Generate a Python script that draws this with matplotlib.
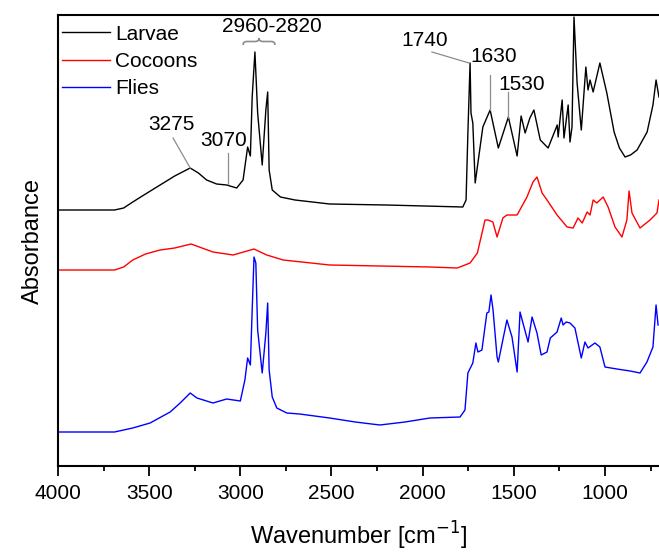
import matplotlib
matplotlib.use("Agg")
import matplotlib.pyplot as plt
from matplotlib.path import Path
from matplotlib.patches import PathPatch

plt.rcParams['font.family'] = ['Liberation Sans', 'DejaVu Sans']

# ---- data (wavenumber [cm^-1], absorbance a.u. incl. vertical offset) ----
larvae_wn = [4000, 3690, 3640, 3590, 3520, 3440, 3360, 3275, 3230, 3185, 3130, 3075,
             3020, 2985, 2960, 2945, 2935, 2920, 2905, 2880, 2860, 2850, 2842, 2825,
             2780, 2700, 2510, 2200, 1780, 1762, 1752, 1740, 1735, 1725, 1712, 1670,
             1630, 1585, 1530, 1482, 1460, 1438, 1412, 1390, 1355, 1312, 1262, 1257,
             1235, 1225, 1202, 1192, 1181, 1170, 1153, 1130, 1105, 1093, 1082, 1065,
             1028, 990, 950, 921, 890, 860, 824, 769, 737, 720, 704]
larvae_a = [2.56, 2.56, 2.58, 2.64, 2.72, 2.81, 2.90, 2.98, 2.93, 2.86, 2.82, 2.81,
            2.78, 2.86, 3.19, 3.10, 3.69, 4.14, 3.53, 3.01, 3.56, 3.74, 2.96, 2.76,
            2.69, 2.66, 2.62, 2.61, 2.59, 2.66, 3.33, 4.03, 3.53, 3.43, 2.83, 3.39,
            3.56, 3.18, 3.49, 3.10, 3.50, 3.33, 3.48, 3.56, 3.26, 3.18, 3.41, 3.29,
            3.66, 3.28, 3.61, 3.24, 3.39, 4.49, 3.83, 3.36, 3.99, 3.76, 3.86, 3.74,
            4.03, 3.73, 3.34, 3.18, 3.09, 3.11, 3.16, 3.34, 3.61, 3.86, 3.69]

cocoons_wn = [4000, 3690, 3640, 3590, 3520, 3440, 3360, 3270, 3150, 3040, 2925, 2855,
              2765, 2510, 1960, 1810, 1740, 1700, 1658, 1642, 1615, 1592, 1560, 1538,
              1482, 1428, 1395, 1373, 1345, 1318, 1263, 1208, 1175, 1148, 1125, 1098,
              1082, 1065, 1045, 1010, 983, 945, 907, 880, 868, 852, 808, 753, 715, 704]
cocoons_a = [1.96, 1.96, 1.99, 2.06, 2.12, 2.16, 2.18, 2.22, 2.14, 2.11, 2.17, 2.11,
             2.06, 2.01, 1.99, 1.98, 2.03, 2.13, 2.46, 2.46, 2.44, 2.29, 2.48, 2.51,
             2.51, 2.69, 2.84, 2.89, 2.73, 2.66, 2.51, 2.39, 2.38, 2.48, 2.43, 2.54,
             2.51, 2.66, 2.63, 2.69, 2.59, 2.39, 2.29, 2.46, 2.75, 2.53, 2.38, 2.46,
             2.53, 2.66]

flies_wn = [4000, 3690, 3590, 3495, 3385, 3330, 3275, 3238, 3150, 3075, 3000, 2975,
            2960, 2945, 2935, 2925, 2915, 2905, 2880, 2860, 2850, 2842, 2825, 2800,
            2745, 2675, 2510, 2370, 2235, 2097, 1960, 1795, 1768, 1752, 1725, 1708,
            1697, 1675, 1648, 1637, 1625, 1614, 1592, 1585, 1538, 1510, 1482, 1466,
            1450, 1422, 1400, 1373, 1350, 1318, 1300, 1263, 1240, 1230, 1213, 1192,
            1165, 1130, 1110, 1093, 1055, 1028, 1000, 935, 862, 808, 770, 737, 720, 709]
flies_a = [0.34, 0.34, 0.38, 0.43, 0.54, 0.63, 0.73, 0.68, 0.63, 0.67, 0.65, 0.86,
           1.08, 1.01, 1.56, 2.09, 2.03, 1.36, 0.93, 1.33, 1.63, 0.96, 0.69, 0.58,
           0.53, 0.52, 0.48, 0.44, 0.41, 0.44, 0.48, 0.49, 0.56, 0.93, 1.03, 1.23,
           1.14, 1.16, 1.53, 1.54, 1.71, 1.56, 1.09, 1.04, 1.46, 1.29, 0.94, 1.54,
           1.43, 1.24, 1.49, 1.33, 1.11, 1.14, 1.28, 1.34, 1.48, 1.41, 1.44, 1.43,
           1.38, 1.08, 1.24, 1.18, 1.23, 1.19, 0.99, 0.97, 0.95, 0.93, 1.04, 1.19,
           1.61, 1.41]

series_names = ["Larvae", "Cocoons", "Flies"]
series_colors = ["black", "#ff0000", "#0000ff"]

# annotations: label, text position (wn, a), leader line ((wn0, a0), (wn1, a1))
annot_labels = ["3275", "3070", "1740", "1630", "1530"]
annot_text_xy = [(3380, 3.41), (3090, 3.26), (1987, 4.26), (1609, 4.09), (1455, 3.81)]
annot_lines = [((3275, 2.98), (3369, 3.28)),
               ((3070, 2.82), (3070, 3.13)),
               ((1746, 4.03), (1949, 4.14)),
               ((1630, 3.56), (1630, 3.91)),
               ((1530, 3.48), (1530, 3.74))]
brace_label = "2960-2820"
brace_label_xy = (2826, 4.39)
brace_range = (2985, 2810)

W, H = 659, 554
fig = plt.figure(figsize=(W / 100, H / 100), dpi=100)
ax = fig.add_axes([58 / W, (H - 466) / H, (659.7 - 58) / W, (466 - 15) / H])

for wn, a, name, c in zip([larvae_wn, cocoons_wn, flies_wn],
                          [larvae_a, cocoons_a, flies_a],
                          series_names, series_colors):
    ax.plot(wn, a, color=c, lw=1.0, label=name)

ax.set_xlim(4000, 700)
ax.set_ylim(0, 4.51)
ax.set_yticks([])
ax.set_xticks([4000, 3500, 3000, 2500, 2000, 1500, 1000])
ax.set_xticks([3750, 3250, 2750, 2250, 1750, 1250, 750], minor=True)
ax.tick_params(axis='x', which='major', direction='out', length=7, width=1.3,
               labelsize=15, pad=6)
ax.tick_params(axis='x', which='minor', direction='out', length=3.5, width=1.3)
for s in ax.spines.values():
    s.set_linewidth(1.5)
ax.spines['right'].set_visible(False)

ax.set_xlabel("Wavenumber [cm$^{-1}$]", fontsize=17, labelpad=12)
ax.set_ylabel("Absorbance", fontsize=17, labelpad=10)

grey = "#8c8c8c"
for lab, (tx, ty), ((x0, y0), (x1, y1)) in zip(annot_labels, annot_text_xy, annot_lines):
    ax.plot([x0, x1], [y0, y1], color=grey, lw=0.9)
    ax.text(tx, ty, lab, fontsize=15, ha='center', va='center')

# curly brace for 2960-2820
bx0, bx1 = brace_range
bm = (bx0 + bx1) / 2
yb, ym, yt = 4.21, 4.245, 4.28
d = (bx0 - bx1) * 0.12
verts = [(bx0, yb), (bx0, ym), (bx0 - d, ym), (bx0 - d, ym),
         (bm + d, ym), (bm, ym), (bm, yt),
         (bm, ym), (bm - d, ym), (bm - d, ym),
         (bx1 + d, ym), (bx1, ym), (bx1, yb)]
codes = [Path.MOVETO, Path.CURVE3, Path.CURVE3, Path.LINETO,
         Path.LINETO, Path.CURVE3, Path.CURVE3,
         Path.CURVE3, Path.CURVE3, Path.LINETO,
         Path.LINETO, Path.CURVE3, Path.CURVE3]
ax.add_patch(PathPatch(Path(verts, codes), fill=False, edgecolor=grey, lw=1.2))
ax.text(brace_label_xy[0], brace_label_xy[1], brace_label, fontsize=15,
        ha='center', va='center')

leg = ax.legend(loc='upper left', frameon=False, fontsize=15, handlelength=2.3,
                handletextpad=0.25, labelspacing=0.4, borderaxespad=0.0,
                bbox_to_anchor=(-0.007, 0.997))

fig.savefig("out.png", dpi=100)
